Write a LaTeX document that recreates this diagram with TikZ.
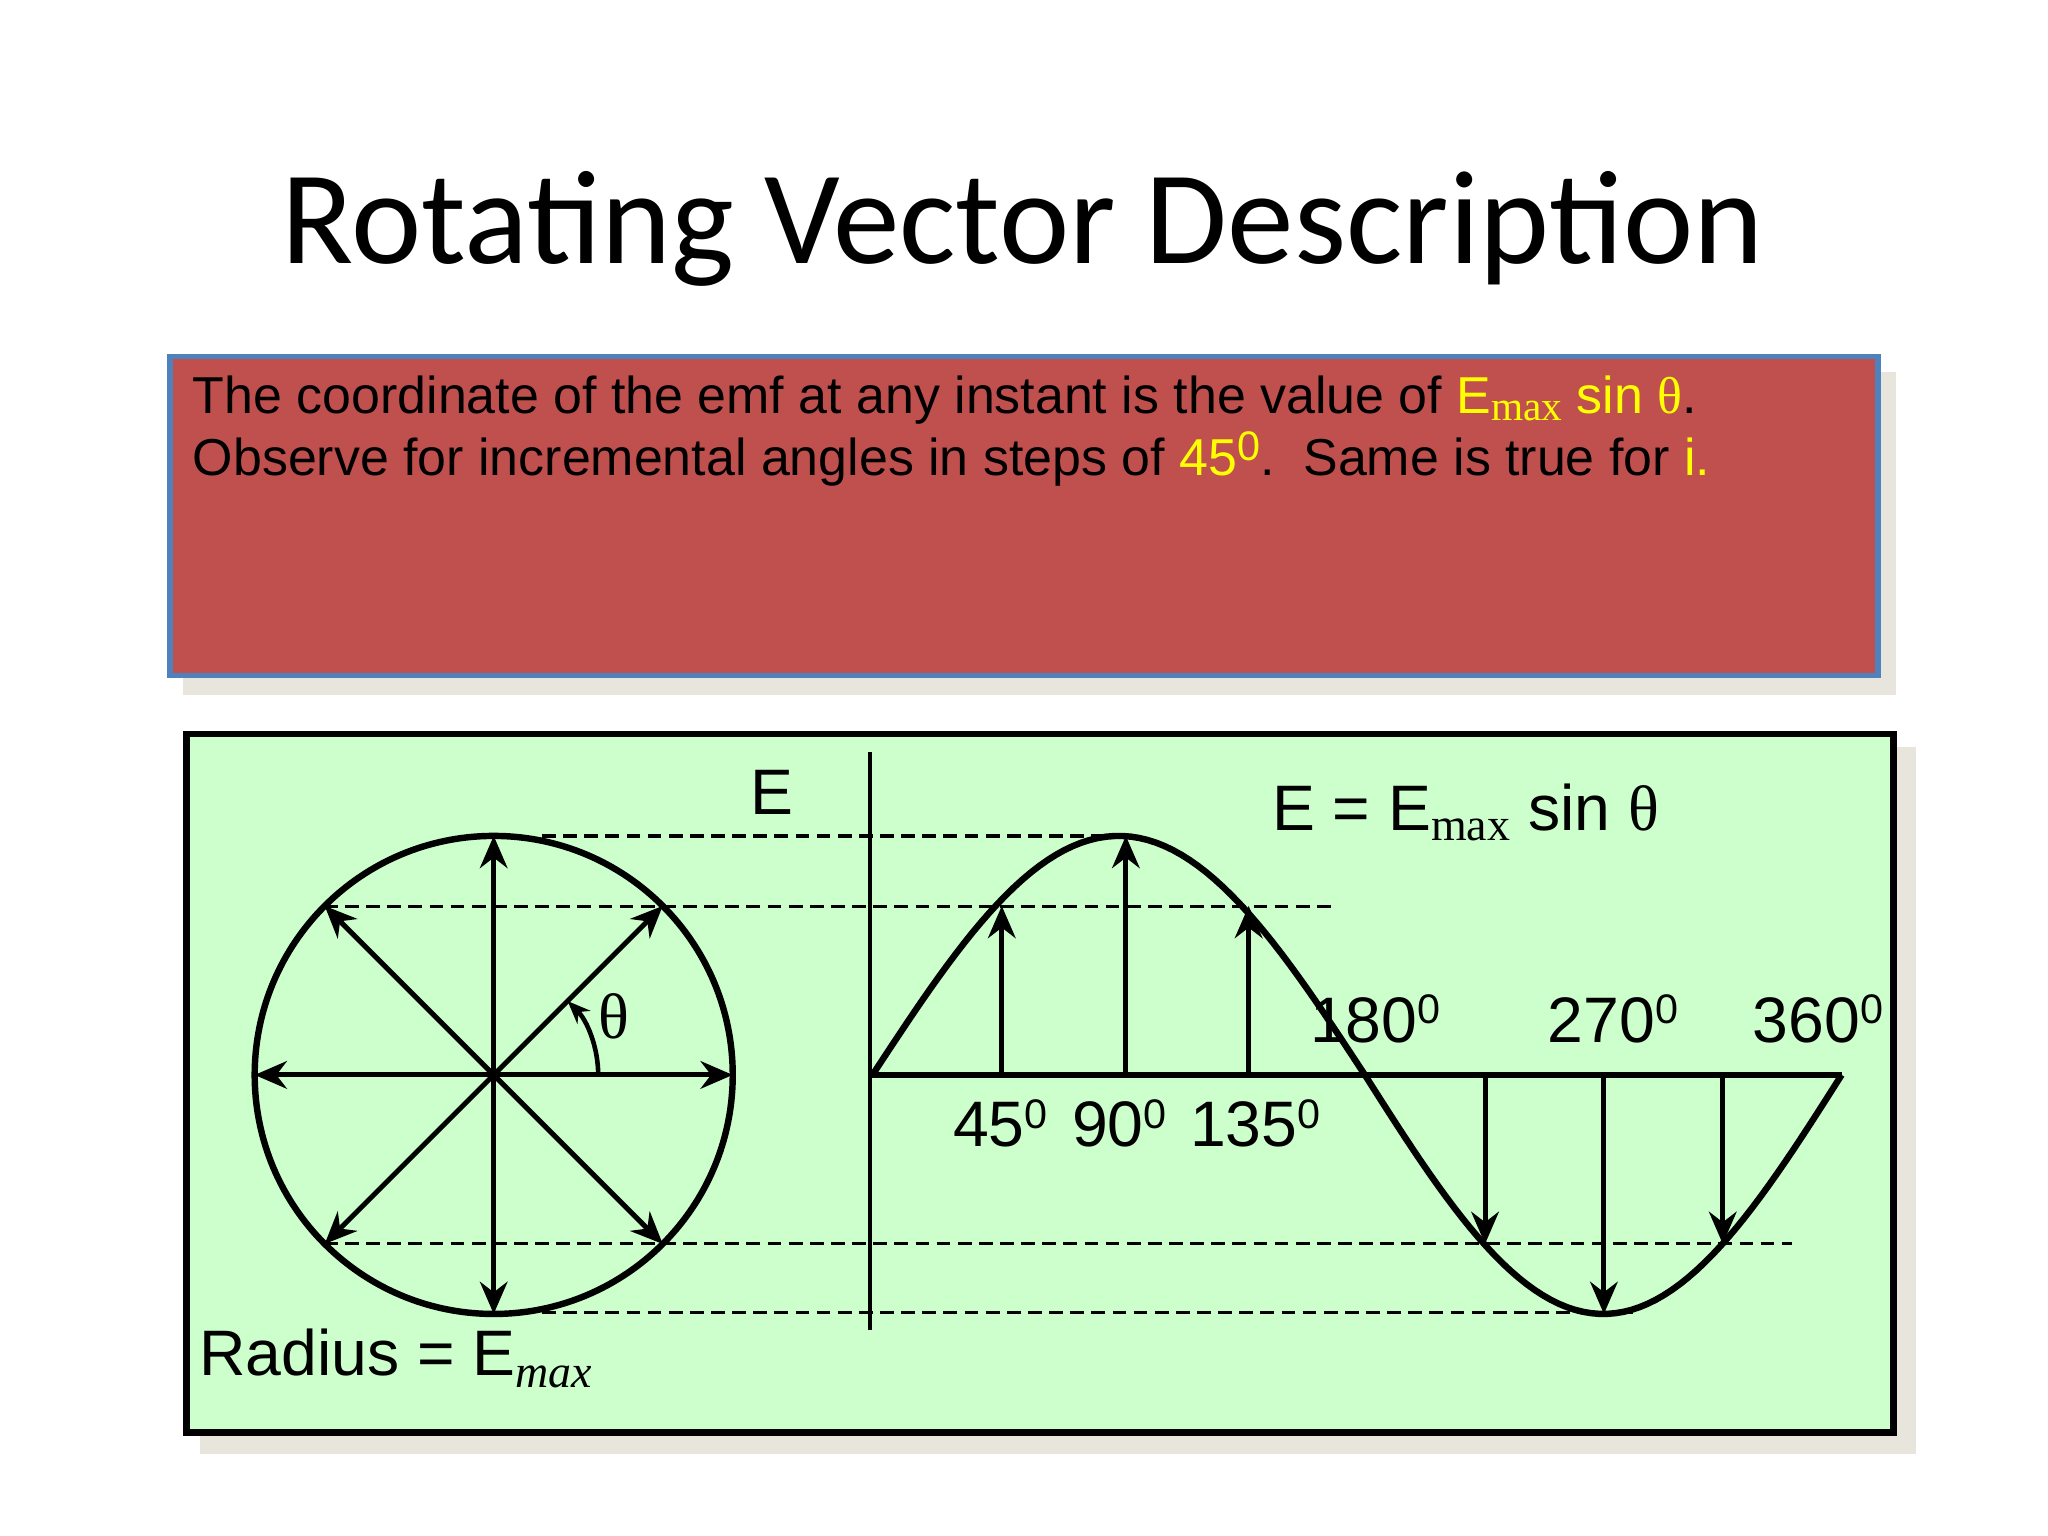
\documentclass[tikz,border=0pt]{standalone}
\usepackage{fontspec}
\setmainfont{Liberation Sans}
\newfontfamily\titlefont{Carlito}
\newfontfamily\serifgr{Liberation Serif}
\usetikzlibrary{arrows.meta}
\definecolor{redbox}{HTML}{C0504D}
\definecolor{bluebd}{HTML}{4F81BD}
\definecolor{greenbox}{HTML}{CCFFCC}
\definecolor{shadowc}{HTML}{E8E6DC}
\definecolor{yel}{HTML}{FFFF00}
\newcommand{\degsup}[1]{#1\raisebox{0.55ex}{\fontsize{9}{9}\selectfont 0}}
\begin{document}
\begin{tikzpicture}[x=0.01cm,y=-0.01cm,
  thick5/.style={line width=1.4pt},
  vec/.style={line width=1.1pt,-{Stealth[length=7pt,width=6pt]}},
  dsh/.style={line width=0.8pt,dash pattern=on 3pt off 1.6pt},
  lbl/.style={font=\fontsize{14}{16}\selectfont, inner sep=0pt}]
\useasboundingbox[fill=white] (0,0) rectangle (1568,1176);
\node[font=\titlefont\fontsize{29}{34}\selectfont] (title) at (783,175) {Rotating Vector Description};
% red box
\fill[shadowc] (140,285) rectangle (1452,532);
\draw[bluebd,line width=1.2pt,fill=redbox] (130,273) rectangle (1438,517);
\node[anchor=north west,align=left,inner sep=0pt,font=\fontsize{11.3}{13.6}\selectfont] (txt) at (147,287)
 {The coordinate of the emf at any instant is the value of \textcolor{yel}{E{\serifgr\fontsize{9}{9}\selectfont\raisebox{-0.4ex}{max}} sin {\serifgr θ}}.\\
  Observe for incremental angles in steps of \textcolor{yel}{\degsup{45}}.\ \ Same is true for \textcolor{yel}{i.}};
% green box
\fill[shadowc] (153,572) rectangle (1467,1113);
\draw[line width=1.5pt,fill=greenbox] (143,562) rectangle (1450,1097);
% dashed
\draw[dsh] (415,640) -- (862,640);
\draw[dsh] (248,694) -- (1020,694);
\draw[dsh] (248,952) -- (1372,952);
\draw[dsh] (415,1005) -- (1253,1005);
% circle
\coordinate (c) at (378,823);
\draw[thick5] (c) circle[radius=183];
\foreach \a in {0,45,...,315}{\draw[vec] (c) -- ++({183*cos(\a)},{-183*sin(\a)});}
\draw[line width=1pt,-{Stealth[length=5pt,width=4pt]}] (458,823) arc[start angle=0,end angle=-45,radius=80];
\node[lbl,font=\serifgr\fontsize{14}{16}\selectfont] (th) at (470,778) {θ};
% axes
\draw[line width=1pt] (666,576) -- (666,1018);
\draw[thick5] (668,823) -- (1410,823);
\node[lbl] (E) at (591,607) {E};
% sine
\draw[thick5,domain=0:180,samples=60,variable=\t] plot ({668+\t/180*377},{823-183*sin(\t)});
\draw[thick5,domain=180:360,samples=60,variable=\t] plot ({1045+(\t-180)/180*365},{823-183*sin(\t)});
\foreach \x/\t in {767/45,862/90,956/135}{\draw[vec] (\x,823) -- (\x,{823-183*sin(\t)});}
\foreach \x/\t in {1137/225,1228/270,1319/315}{\draw[vec] (\x,823) -- (\x,{823-183*sin(\t)});}
% labels
\node[lbl] (l45) at (766,860) {\degsup{45}};
\node[lbl] (l90) at (857,860) {\degsup{90}};
\node[lbl] (l135) at (961,860) {\degsup{135}};
\node[lbl] (l180) at (1053,780) {\degsup{180}};
\node[lbl] (l270) at (1235,780) {\degsup{270}};
\node[lbl] (l360) at (1392,780) {\degsup{360}};
\node[lbl] (eq) at (1122,622) {E = E{\serifgr\fontsize{10}{10}\selectfont\raisebox{-0.5ex}{max}} sin {\serifgr θ}};
\node[lbl] (rad) at (303,1040) {Radius = E{\serifgr\itshape\fontsize{10}{10}\selectfont\raisebox{-0.6ex}{max}}};
\end{tikzpicture}
\end{document}
